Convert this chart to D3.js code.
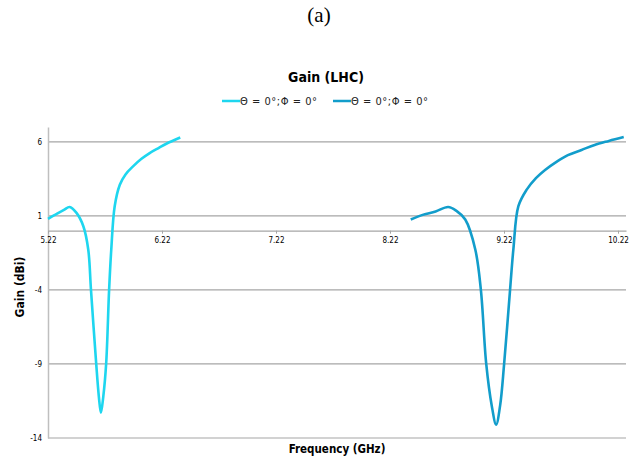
<!DOCTYPE html>
<html>
<head>
<meta charset="utf-8">
<script src="https://cdn.jsdelivr.net/npm/d3@7"></script>
<style>
  body { margin: 0; background: #fff; }
  svg { display: block; }
</style>
</head>
<body>
<script>

// chart values
var freq_low  = [5.22, 5.30, 5.36, 5.41, 5.47, 5.53, 5.573, 5.597, 5.643, 5.666, 5.684, 5.705, 5.730, 5.756, 5.775, 5.805, 5.85, 5.90, 5.966, 6.04, 6.112, 6.19, 6.258, 6.38];
var gain_low  = [0.8, 1.15, 1.4, 1.6, 1.2, 0.3, -1.27, -4, -9, -11.2, -12.3, -11.2, -9, -4, -1.27, 1.65, 3.1, 3.8, 4.34, 4.85, 5.24, 5.58, 5.87, 6.29];

var freq_high = [8.402, 8.50, 8.62, 8.73, 8.80, 8.88, 8.968, 9.017, 9.064, 9.112, 9.151, 9.186, 9.221, 9.273, 9.302, 9.346, 9.419, 9.50, 9.58, 9.68, 9.78, 9.90, 10.015, 10.14, 10.27];
var gain_high = [0.75, 1.05, 1.3, 1.6, 1.35, 0.75, -1.27, -4, -9, -11.8, -13.1, -11.8, -9, -4, -1.27, 1.65, 2.77, 3.55, 4.1, 4.65, 5.1, 5.45, 5.79, 6.06, 6.32];

var series_names  = ["\u0398 = 0\u00b0;\u03a6 = 0\u00b0", "\u0398 = 0\u00b0;\u03a6 = 0\u00b0"];
var series_colors = ["#1ed6ef", "#129dcb"];

var x_ticks = [5.22, 6.22, 7.22, 8.22, 9.22, 10.22];
var y_ticks = [6, 1, -4, -9, -14];

var w = 638, h = 459;
var font = "'DejaVu Sans Condensed', 'DejaVu Sans', sans-serif";

var svg = d3.select("body").append("svg").attr("width", w).attr("height", h);

// scales
var x = d3.scaleLinear().domain([5.22, 10.29]).range([48, 626]);
var y = d3.scaleLinear().domain([-14, 7]).range([438, 127]);

// figure label
svg.append("text").attr("x", 319).attr("y", 22)
   .attr("text-anchor", "middle").attr("font-family", "'Liberation Serif', serif")
   .attr("font-size", 21).text("(a)");

// chart title
svg.append("text").attr("x", 326).attr("y", 82)
   .attr("text-anchor", "middle").attr("font-family", font)
   .attr("font-weight", "bold").attr("font-size", 14).text("Gain (LHC)");

// legend
var legend_x = [222, 333];
series_names.forEach(function(name, i) {
  svg.append("line")
     .attr("x1", legend_x[i]).attr("x2", legend_x[i] + 18)
     .attr("y1", 101).attr("y2", 101)
     .attr("stroke", series_colors[i]).attr("stroke-width", 2.5);
  svg.append("text")
     .attr("x", legend_x[i] + 18).attr("y", 105)
     .attr("font-family", font).attr("font-size", 11).attr("fill", "#222")
     .attr("textLength", 77).attr("lengthAdjust", "spacing")
     .text(name);
});

// horizontal gridlines
svg.append("g").selectAll("line").data(y_ticks).enter().append("line")
   .attr("x1", 48).attr("x2", 626)
   .attr("y1", function(d) { return y(d); }).attr("y2", function(d) { return y(d); })
   .attr("stroke", "#a6a6a6").attr("stroke-width", 1.2);

// y axis
var y_axis = svg.append("g").attr("transform", "translate(48,0)")
   .call(d3.axisLeft(y).tickValues(y_ticks).tickFormat(function(d) { return String(d); })
         .tickSize(0).tickPadding(6));
y_axis.select(".domain").attr("stroke", "#bfbfbf").attr("stroke-width", 1.5);
y_axis.selectAll("text").attr("font-family", font).attr("font-size", 8).attr("fill", "#000");

// x axis, crossing at 0
var x_axis = svg.append("g").attr("transform", "translate(0," + y(0) + ")")
   .call(d3.axisBottom(x).tickValues(x_ticks).tickFormat(d3.format(".2f")).tickSize(3).tickSizeOuter(0).tickPadding(4));
x_axis.select(".domain").attr("stroke", "#a6a6a6").attr("stroke-width", 1.2);
x_axis.selectAll(".tick line").attr("stroke", "#a6a6a6");
x_axis.selectAll("text").attr("font-family", font).attr("font-size", 8).attr("fill", "#000");

// axis titles
svg.append("text").attr("x", 337).attr("y", 453)
   .attr("text-anchor", "middle").attr("font-family", font)
   .attr("font-weight", "bold").attr("font-size", 11.5).text("Frequency (GHz)");
svg.append("text")
   .attr("transform", "translate(24,287) rotate(-90)")
   .attr("text-anchor", "middle").attr("font-family", font)
   .attr("font-weight", "bold").attr("font-size", 12).text("Gain (dBi)");

// curves
var line = d3.line()
   .x(function(d) { return x(d[0]); })
   .y(function(d) { return y(d[1]); })
   .curve(d3.curveCatmullRom.alpha(0.5));

var series = [d3.zip(freq_low, gain_low), d3.zip(freq_high, gain_high)];
series.forEach(function(pts, i) {
  svg.append("path").datum(pts)
     .attr("d", line)
     .attr("fill", "none")
     .attr("stroke", series_colors[i])
     .attr("stroke-width", 2.6)
     .attr("stroke-linejoin", "round");
});

</script>
</body>
</html>
